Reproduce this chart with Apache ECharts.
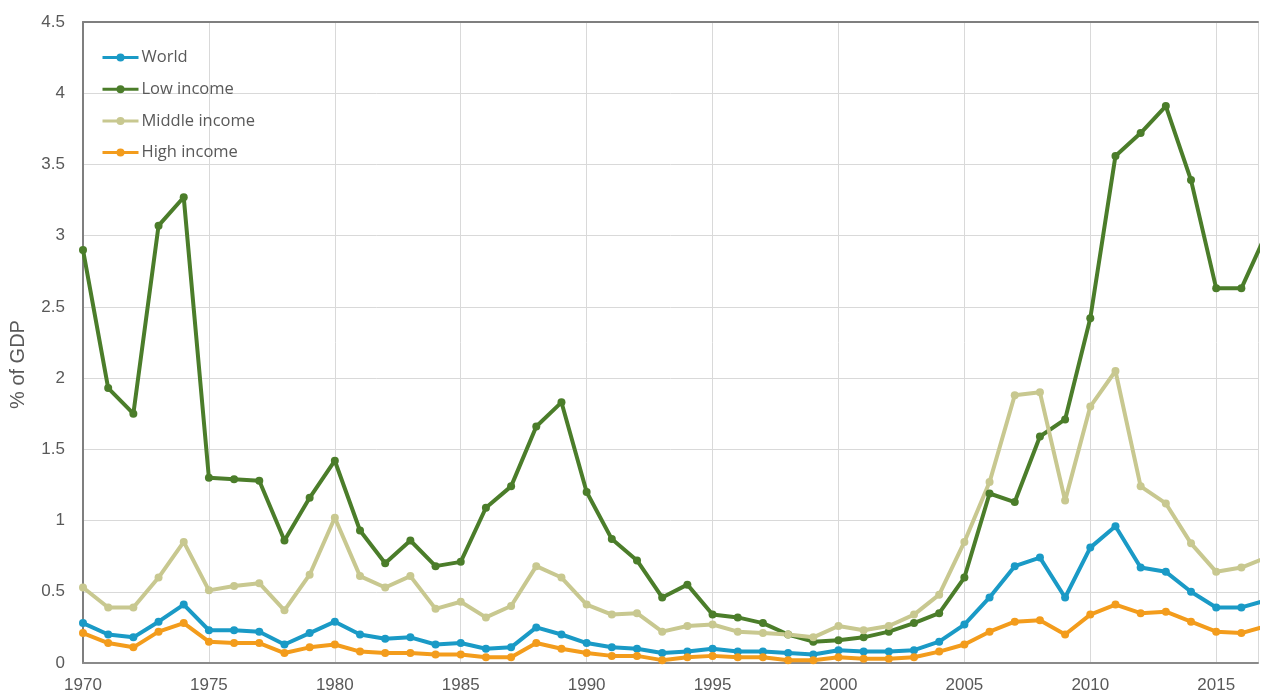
<!DOCTYPE html>
<html>
<head>
<meta charset="utf-8">
<script src="https://cdn.jsdelivr.net/npm/echarts@6/dist/echarts.min.js"></script>
<style>
html,body{margin:0;padding:0;background:#fff;}
#chart{width:1261px;height:694px;}
</style>
</head>
<body>
<div id="chart"></div>
<script>
const years = [1970,1971,1972,1973,1974,1975,1976,1977,1978,1979,1980,1981,1982,1983,1984,1985,1986,1987,1988,1989,1990,1991,1992,1993,1994,1995,1996,1997,1998,1999,2000,2001,2002,2003,2004,2005,2006,2007,2008,2009,2010,2011,2012,2013,2014,2015,2016,2017];
const world = [0.28,0.20,0.18,0.29,0.41,0.23,0.23,0.22,0.13,0.21,0.29,0.20,0.17,0.18,0.13,0.14,0.10,0.11,0.25,0.20,0.14,0.11,0.10,0.07,0.08,0.10,0.08,0.08,0.07,0.06,0.09,0.08,0.08,0.09,0.15,0.27,0.46,0.68,0.74,0.46,0.81,0.96,0.67,0.64,0.50,0.39,0.39,0.44];
const lowIncome = [2.90,1.93,1.75,3.07,3.27,1.30,1.29,1.28,0.86,1.16,1.42,0.93,0.70,0.86,0.68,0.71,1.09,1.24,1.66,1.83,1.20,0.87,0.72,0.46,0.55,0.34,0.32,0.28,0.20,0.15,0.16,0.18,0.22,0.28,0.35,0.60,1.19,1.13,1.59,1.71,2.42,3.56,3.72,3.91,3.39,2.63,2.63,3.02];
const middleIncome = [0.53,0.39,0.39,0.60,0.85,0.51,0.54,0.56,0.37,0.62,1.02,0.61,0.53,0.61,0.38,0.43,0.32,0.40,0.68,0.60,0.41,0.34,0.35,0.22,0.26,0.27,0.22,0.21,0.20,0.18,0.26,0.23,0.26,0.34,0.48,0.85,1.27,1.88,1.90,1.14,1.80,2.05,1.24,1.12,0.84,0.64,0.67,0.74];
const highIncome = [0.21,0.14,0.11,0.22,0.28,0.15,0.14,0.14,0.07,0.11,0.13,0.08,0.07,0.07,0.06,0.06,0.04,0.04,0.14,0.10,0.07,0.05,0.05,0.02,0.04,0.05,0.04,0.04,0.02,0.02,0.04,0.03,0.03,0.04,0.08,0.13,0.22,0.29,0.30,0.20,0.34,0.41,0.35,0.36,0.29,0.22,0.21,0.26];
const seriesNames = ['World','Low income','Middle income','High income'];
const seriesColors = ['#1a9ac6','#4b7d2a','#c8c890','#f39c1c'];
const seriesData = [world, lowIncome, middleIncome, highIncome];

const chart = echarts.init(document.getElementById('chart'));
const font = '"Liberation Sans", Arial, sans-serif';
chart.setOption({
  backgroundColor: '#ffffff',
  animation: false,
  grid: {left: 83, right: 0, top: 22, bottom: 31},
  legend: {
    orient: 'vertical', left: 96, top: 44, itemGap: 14.7, itemWidth: 36, itemHeight: 10,
    lineStyle: {width: 3},
    textStyle: {color: '#595959', fontSize: 16.5, fontFamily: '"Open Sans", sans-serif', padding: [0,0,0,-2]},
    data: seriesNames
  },
  xAxis: [{
    type: 'value', min: 1970, max: 2016.66, interval: 5,
    axisLine: {show: true, lineStyle: {color: '#8a8a8a', width: 2}},
    axisTick: {show: false},
    splitLine: {show: true, lineStyle: {color: '#d9d9d9', width: 1}},
    axisLabel: {color: '#595959', fontSize: 17, fontFamily: font, margin: 14,
      formatter: v => (Math.abs(v % 5) < 1e-6 ? String(v) : '')}
  }, {
    type: 'value', position: 'top', min: 1970, max: 2016.66, interval: 5,
    axisLine: {show: true, lineStyle: {color: '#7f7f7f', width: 2}},
    axisTick: {show: false}, axisLabel: {show: false}, splitLine: {show: false}
  }],
  yAxis: {
    type: 'value', min: 0, max: 4.5, interval: 0.5,
    name: '% of GDP', nameLocation: 'middle', nameGap: 55,
    nameTextStyle: {color: '#595959', fontSize: 20, fontFamily: font, padding: [0, 44, 0, 0]},
    axisLine: {show: true, lineStyle: {color: '#7f7f7f', width: 2}},
    axisTick: {show: false},
    splitLine: {show: true, lineStyle: {color: '#d9d9d9', width: 1}},
    axisLabel: {color: '#595959', fontSize: 17, fontFamily: font, margin: 18}
  },
  series: seriesNames.map((n, i) => ({
    name: n, type: 'line', clip: true, xAxisIndex: 0,
    data: years.map((y, j) => [y, seriesData[i][j]]),
    symbol: 'circle', symbolSize: 8,
    lineStyle: {width: 4, color: seriesColors[i]},
    itemStyle: {color: seriesColors[i]},
    z: 2
  }))
});
</script>
</body>
</html>
